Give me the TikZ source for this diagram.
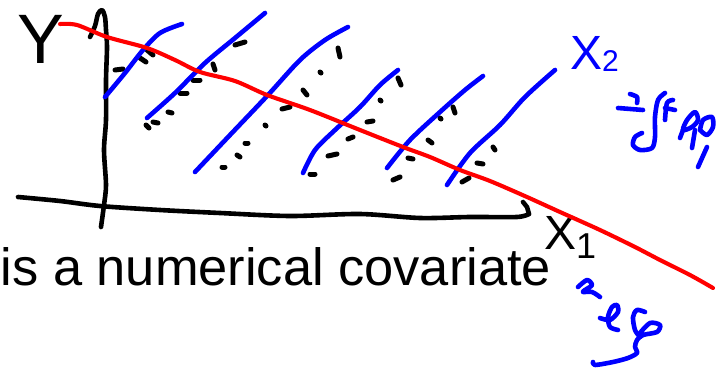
\documentclass[tikz,border=0pt]{standalone}
\usepackage{fontspec}
\setmainfont{Liberation Sans}
\begin{document}
\begin{tikzpicture}[x=1pt,y=-1pt,
  blk/.style={draw=black,line width=4.6pt,line cap=round,line join=round},
  blu/.style={draw=blue,line width=4.6pt,line cap=round,line join=round},
  rd/.style={draw=red,line width=4.1pt,line cap=round,line join=round},
  pt/.style={draw=black,line width=5pt,line cap=round},
  hand/.style={inner sep=0pt,anchor=base west}]
\useasboundingbox (0,0) rectangle (716,375);
\fill[white] (0,0) rectangle (716,375);

% caption
\node[hand] (cap) at (0.5,285) {\fontsize{52.4}{60}\selectfont is a numerical covariate};

% Y axis with hand-drawn tip
\draw[blk] plot[smooth] coordinates {(90,37) (95,26) (98,14) (102,10) (105,17) (106,30) (107,47) (106,80) (106,120) (104,150) (106,185) (104,205) (101,227)};
% X axis with hook
\draw[blk] plot[smooth] coordinates {(18,197) (60,201) (100,206) (160,210) (220,213) (290,216) (360,214) (420,218) (470,217) (517,217) (529,214)};
\draw[blk] (529,214) -- (527,207) -- (523,202);

% labels
\node[hand,text=black] (ylab) at (17,63) {\fontsize{70}{70}\selectfont Y};
\node[hand,text=black] (x1lab) at (544,249) {\fontsize{48}{48}\selectfont X\raisebox{-9pt}{\fontsize{36}{36}\selectfont 1}};
\node[hand,text=blue] (x2lab) at (570,69) {\fontsize{48}{48}\selectfont X\raisebox{-2pt}{\fontsize{30}{30}\selectfont 2}};

% data points (black dashes)
\draw[pt] (147,50) -- (153,55);
\draw[pt] (140,58) -- (146,62);
\draw[pt] (115,70) -- (123,69);
\draw[pt] (235,45) -- (245,42);
\draw[pt] (213,64) -- (215,70);
\draw[pt] (193,80) -- (200,80);
\draw[pt] (180,93) -- (187,93);
\draw[pt] (168,112) -- (172,113);
\draw[pt] (153,122) -- (158,123);
\draw[pt] (146,125) -- (149,128);
\draw[pt] (338,48) -- (340,57);
\draw[pt] (320,72) -- (321,73);
\draw[pt] (303,90) -- (307,95);
\draw[pt] (282,109) -- (290,107);
\draw[pt] (265,125) -- (266,126);
\draw[pt] (245,143) -- (248,143);
\draw[pt] (237,155) -- (240,157);
\draw[pt] (222,167) -- (225,167);
\draw[pt] (348,139) -- (353,137);
\draw[pt] (328,156) -- (337,154);
\draw[pt] (310,174) -- (315,174);
\draw[pt] (398,78) -- (401,85);
\draw[pt] (380,100) -- (381,101);
\draw[pt] (367,122) -- (373,121);
\draw[pt] (453,107) -- (455,113);
\draw[pt] (440,118) -- (441,119);
\draw[pt] (428,140) -- (432,143);
\draw[pt] (408,158) -- (413,159);
\draw[pt] (393,180) -- (400,177);
\draw[pt] (493,147) -- (495,150);
\draw[pt] (477,163) -- (483,164);
\draw[pt] (462,182) -- (469,178);

% blue lines
\draw[blu] plot[smooth] coordinates {(105,97) (125,73) (143,50) (160,33) (182,24)};
\draw[blu] plot[smooth] coordinates {(147,118) (175,93) (205,63) (235,38) (265,13)};
\draw[blu] plot[smooth] coordinates {(195,172) (230,135) (268,95) (300,60) (325,40) (348,27)};
\draw[blu] plot[smooth] coordinates {(303,173) (315,150) (335,130) (360,107) (380,85) (398,70)};
\draw[blu] plot[smooth] coordinates {(387,168) (410,140) (440,112) (465,90) (483,76)};
\draw[blu] plot[smooth] coordinates {(447,185) (470,153) (500,125) (525,97) (555,70)};

% red line
\draw[rd] plot[smooth] coordinates {(60,24) (77,25) (107,37) (147,48) (175,60) (200,72) (235,81) (267,95) (310,110) (360,130) (403,147) (430,157) (460,170) (490,181) (527,197) (560,212) (600,230) (635,247) (660,260) (690,275) (713,288)};

% blue scribble near X2
\draw[blu] plot[smooth] coordinates {(630,94) (637,97) (637,103)};
\draw[blu] (618,108) -- (643,110);
\draw[blu] plot[smooth] coordinates {(665,93) (658,100) (655,117) (655,137) (652,148) (640,150) (633,145) (635,137) (642,133)};
\draw[blu] plot[smooth] coordinates {(673,100) (667,103) (665,120)};
\draw[blu] (665,108) -- (675,110);
\draw[blu] plot[smooth cycle] coordinates {(687,120) (695,112) (698,120) (692,127) (683,130)};
\draw[blu] (683,130) -- (680,138);
\draw[blu] plot[smooth] coordinates {(700,130) (703,120) (712,117) (713,127) (707,135) (700,130)};
\draw[blu] (695,130) -- (692,148);
\draw[blu] (707,147) -- (698,167);

% blue scribble near X1
\draw[blu] plot[smooth] coordinates {(578,287) (587,280) (592,285) (585,290) (583,292) (592,292) (600,297)};
\draw[blu] plot[smooth] coordinates {(600,318) (610,320) (618,312) (617,305) (612,307) (608,317) (610,327) (618,330)};
\draw[blu] plot[smooth] coordinates {(645,312) (637,310) (633,317) (635,330) (640,337)};
\draw[blu] plot[smooth] coordinates {(640,333) (650,323) (660,325) (657,332) (643,335) (637,340) (635,347) (637,353) (628,358) (613,362) (595,365) (593,362)};
\end{tikzpicture}
\end{document}
